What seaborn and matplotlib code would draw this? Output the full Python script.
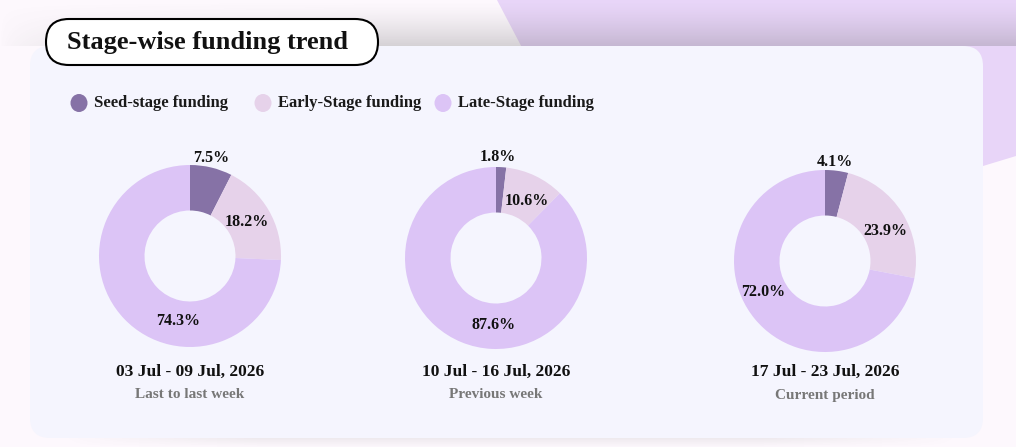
import numpy as np
import matplotlib
matplotlib.use("Agg")
import matplotlib.pyplot as plt
from matplotlib.patches import FancyBboxPatch, Ellipse, Polygon
import seaborn as sns

# 数据
periods = ["03 Jul - 09 Jul, 2026", "10 Jul - 16 Jul, 2026", "17 Jul - 23 Jul, 2026"]
period_notes = ["Last to last week", "Previous week", "Current period"]
stages = ["Seed-stage funding", "Early-Stage funding", "Late-Stage funding"]
seed_share = [7.5, 1.8, 4.1]
early_share = [18.2, 10.6, 23.9]
late_share = [74.3, 87.6, 72.0]

stage_colors = ["#8672a6", "#e6d2ea", "#dcc4f6"]

# 布局（像素）
W, H = 1016, 447
centers = [(190, 256), (496, 258), (825, 261)]
radius = 91
label_offsets = [
    [(21, -98), (57, -34), (-12, 65)],
    [(2, -101), (31, -57), (-2, 67)],
    [(10, -99), (60, -30), (-62, 31)],
]

sns.set_theme(style="white")
plt.rcParams['font.family'] = ['Liberation Serif', 'DejaVu Serif']
plt.rcParams['font.weight'] = 'bold'

fig = plt.figure(figsize=(W / 100, H / 100), dpi=100)
fig.patch.set_facecolor("#fdf8fd")

bg = fig.add_axes([0, 0, 1, 1])
bg.set_xlim(0, W)
bg.set_ylim(H, 0)
bg.axis("off")

# 右上角的紫色背景块
bg.add_patch(Polygon([(497, 0), (560, 120), (700, 200), (983, 166), (1016, 156), (1016, 0)],
                     closed=True, facecolor="#e8d5f8", edgecolor="none", zorder=1))

# 卡片上方的阴影
yy, xx = np.mgrid[0:46, 0:W]
alpha = 0.25 * (yy / 46.0) ** 1.4 * np.clip(xx / 380.0, 0, 1) ** 0.6
shade = np.zeros((46, W, 4))
shade[..., :3] = 0.35
shade[..., 3] = alpha
bg.imshow(shade, extent=(0, W, 46, 0), zorder=2, interpolation="bilinear", aspect="auto")

# 卡片下方的阴影
yy2, xx2 = np.mgrid[0:12, 0:W]
alpha2 = 0.12 * (1 - yy2 / 12.0) * np.clip(np.minimum(xx2 - 60, 960 - xx2) / 200.0, 0, 1)
shade2 = np.zeros((12, W, 4))
shade2[..., :3] = 0.35
shade2[..., 3] = alpha2
bg.imshow(shade2, extent=(0, W, 447, 435), zorder=2, interpolation="bilinear", aspect="auto")

# 卡片
bg.add_patch(FancyBboxPatch((30, 46), 953, 392, boxstyle="round,pad=0,rounding_size=20",
                            facecolor="#f5f5fe", edgecolor="none", zorder=3))

# 标题框
bg.add_patch(FancyBboxPatch((46, 19), 332, 46, boxstyle="round,pad=0,rounding_size=23",
                            facecolor="white", edgecolor="black", linewidth=1.5, zorder=4))
bg.text(67, 42, "Stage-wise funding trend", fontsize=19, fontweight="bold",
        ha="left", va="center", color="#111111", zorder=5)

# 图例
legend_x = [79, 263, 443]
for lx, name, col in zip(legend_x, stages, stage_colors):
    bg.add_patch(Ellipse((lx, 103), 17, 18, facecolor=col, edgecolor="none", zorder=5))
    bg.text(lx + 15, 103, name, fontsize=12, fontweight="bold", ha="left", va="center",
            color="#1a1a1a", zorder=5)

# 三个环形图
half = 130
for i, (cx, cy) in enumerate(centers):
    ax = fig.add_axes([(cx - half) / W, 1 - (cy + half) / H, 2 * half / W, 2 * half / H])
    values = [seed_share[i], early_share[i], late_share[i]]
    ax.pie(values, colors=stage_colors, startangle=90, counterclock=False,
           radius=1, wedgeprops=dict(width=0.5, linewidth=0))
    lim = half / radius
    ax.set_xlim(-lim, lim)
    ax.set_ylim(-lim, lim)
    ax.axis("off")
    for v, (dx, dy) in zip(values, label_offsets[i]):
        ax.text(dx / radius, -dy / radius, f"{v:.1f}%", fontsize=11.5, fontweight="bold",
                ha="center", va="center", color="#111111")

    bg.text(cx, 372, periods[i], fontsize=12.6, fontweight="bold", ha="center", va="center",
            color="#111111", zorder=5)
    bg.text(cx, 395, period_notes[i], fontsize=11, fontweight="bold", ha="center", va="center",
            color="#777777", zorder=5)

fig.savefig("out.png", dpi=100, facecolor=fig.get_facecolor())
